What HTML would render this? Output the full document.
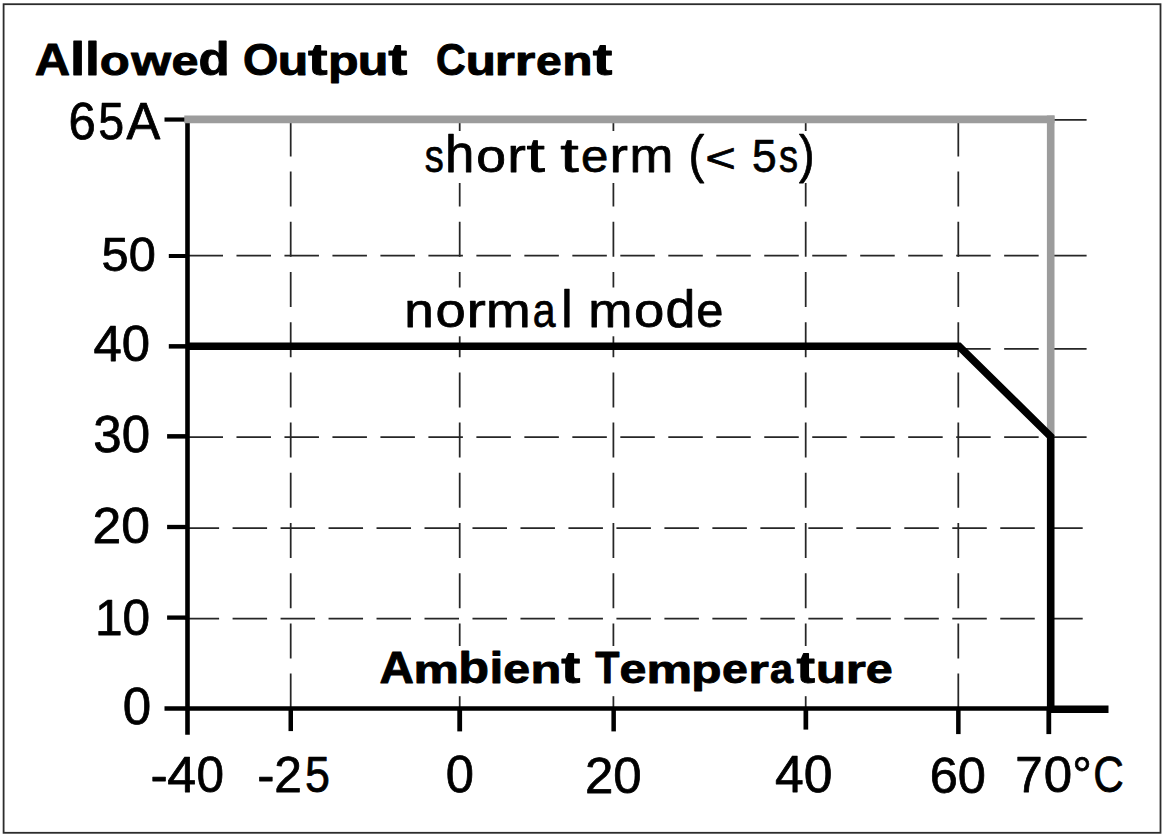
<!DOCTYPE html>
<html><head><meta charset="utf-8">
<style>
html,body{margin:0;padding:0;background:#fff;}
body{width:1169px;height:839px;overflow:hidden;position:relative;}
svg{position:absolute;left:0;top:0;}
text{font-family:"Liberation Sans",sans-serif;fill:#000;white-space:pre;}
</style></head><body>
<svg width="1169" height="839" viewBox="0 0 1169 839">
<g>
<rect x="0" y="0" width="1169" height="839" fill="#fff"/>
<rect x="3.6" y="4.2" width="1156.9" height="828.6" fill="none" stroke="#2c2c2c" stroke-width="1.8"/>
<g stroke="#262626" stroke-width="1.75" fill="none" stroke-dasharray="34.5 13.48">
<line x1="188.5" y1="119.8" x2="1086.6" y2="119.8"/>
<line x1="188.5" y1="255.7" x2="1086.6" y2="255.7"/>
<line x1="188.5" y1="348.8" x2="1086.6" y2="348.8"/>
<line x1="188.5" y1="437.2" x2="1086.6" y2="437.2"/>
<line x1="184.6" y1="528.0" x2="1082.7" y2="528.0"/>
<line x1="184.6" y1="618.5" x2="1082.7" y2="618.5"/>
</g>
<g stroke="#262626" stroke-width="1.75" fill="none" stroke-dasharray="35 15.2">
<line x1="290.7" y1="121.4" x2="290.7" y2="708.5"/>
<line x1="459.7" y1="121.4" x2="459.7" y2="708.5"/>
<line x1="613.4" y1="121.4" x2="613.4" y2="708.5"/>
<line x1="805.7" y1="121.4" x2="805.7" y2="708.5"/>
<line x1="958.3" y1="121.4" x2="958.3" y2="708.5"/>
</g>
<g fill="#fff">
<rect x="418" y="131" width="398" height="52"/>
<rect x="400" y="287.5" width="328" height="48.8"/>
<rect x="374" y="646" width="522" height="50.2"/>
</g>
<g stroke="#000" fill="none">
<line x1="187.5" y1="119" x2="187.5" y2="734.7" stroke-width="4.6"/>
<line x1="164.5" y1="708.4" x2="1051" y2="708.4" stroke-width="4.5"/>
<line x1="164.5" y1="119.55" x2="187.5" y2="119.55" stroke-width="4.2"/>
<line x1="168.8" y1="256" x2="187.5" y2="256" stroke-width="4"/>
<line x1="168.8" y1="346.35" x2="187.5" y2="346.35" stroke-width="4.5"/>
<line x1="167.1" y1="436.35" x2="187.5" y2="436.35" stroke-width="4.5"/>
<line x1="167.1" y1="527" x2="187.5" y2="527" stroke-width="4.3"/>
<line x1="167.1" y1="617.6" x2="187.5" y2="617.6" stroke-width="4.3"/>
<line x1="290.75" y1="708" x2="290.75" y2="731.1" stroke-width="4.5"/>
<line x1="459.7" y1="708" x2="459.7" y2="731.4" stroke-width="4.8"/>
<line x1="613.65" y1="708" x2="613.65" y2="731.4" stroke-width="4.5"/>
<line x1="805.85" y1="708" x2="805.85" y2="729.6" stroke-width="4.7"/>
<line x1="958.35" y1="708" x2="958.35" y2="734.1" stroke-width="4.5"/>
<line x1="1048.8" y1="708" x2="1048.8" y2="734.1" stroke-width="4.8"/>
<line x1="1050.7" y1="709.2" x2="1108.5" y2="709.2" stroke-width="7.4"/>
</g>
<g stroke="#9c9c9c" fill="none">
<line x1="184.3" y1="119.45" x2="1054.5" y2="119.45" stroke-width="7.7"/>
<line x1="1050.7" y1="115.6" x2="1050.7" y2="437" stroke-width="7.6"/>
</g>
<polyline points="187.5,346.2 959,346.2 1050.7,436.6 1050.7,709.2" fill="none" stroke="#000" stroke-width="7.6" stroke-linejoin="miter"/>

<g>
<text x="34.85" y="74.55" font-size="44.50" font-weight="bold" textLength="35.35" lengthAdjust="spacingAndGlyphs" stroke="#000" stroke-width="0.9" stroke-linejoin="round">A</text>
<text x="70.08" y="74.55" font-size="46.33" font-weight="bold" textLength="15.24" lengthAdjust="spacingAndGlyphs" stroke="#000" stroke-width="0.9" stroke-linejoin="round">l</text>
<text x="85.07" y="74.55" font-size="46.33" font-weight="bold" textLength="14.90" lengthAdjust="spacingAndGlyphs" stroke="#000" stroke-width="0.9" stroke-linejoin="round">l</text>
<text x="99.74" y="74.55" font-size="41.14" font-weight="bold" textLength="30.01" lengthAdjust="spacingAndGlyphs" stroke="#000" stroke-width="0.9" stroke-linejoin="round">o</text>
<text x="131.16" y="74.55" font-size="40.19" font-weight="bold" textLength="39.82" lengthAdjust="spacingAndGlyphs" stroke="#000" stroke-width="0.9" stroke-linejoin="round">w</text>
<text x="171.48" y="74.55" font-size="41.13" font-weight="bold" textLength="27.03" lengthAdjust="spacingAndGlyphs" stroke="#000" stroke-width="0.9" stroke-linejoin="round">e</text>
<text x="198.59" y="74.55" font-size="46.15" font-weight="bold" textLength="31.18" lengthAdjust="spacingAndGlyphs" stroke="#000" stroke-width="0.9" stroke-linejoin="round">d</text>
<text x="243.06" y="74.55" font-size="44.59" font-weight="bold" textLength="35.34" lengthAdjust="spacingAndGlyphs" stroke="#000" stroke-width="0.9" stroke-linejoin="round">O</text>
<text x="277.78" y="74.55" font-size="40.13" font-weight="bold" textLength="30.52" lengthAdjust="spacingAndGlyphs" stroke="#000" stroke-width="0.9" stroke-linejoin="round">u</text>
<text x="308.12" y="74.55" font-size="44.41" font-weight="bold" textLength="19.57" lengthAdjust="spacingAndGlyphs" stroke="#000" stroke-width="0.9" stroke-linejoin="round">t</text>
<text x="327.94" y="74.55" font-size="40.13" font-weight="bold" textLength="30.60" lengthAdjust="spacingAndGlyphs" stroke="#000" stroke-width="0.9" stroke-linejoin="round">p</text>
<text x="357.68" y="74.55" font-size="40.13" font-weight="bold" textLength="30.69" lengthAdjust="spacingAndGlyphs" stroke="#000" stroke-width="0.9" stroke-linejoin="round">u</text>
<text x="388.32" y="74.55" font-size="44.41" font-weight="bold" textLength="19.03" lengthAdjust="spacingAndGlyphs" stroke="#000" stroke-width="0.9" stroke-linejoin="round">t</text>
<text x="435.98" y="74.55" font-size="44.59" font-weight="bold" textLength="29.74" lengthAdjust="spacingAndGlyphs" stroke="#000" stroke-width="0.9" stroke-linejoin="round">C</text>
<text x="465.73" y="74.55" font-size="40.13" font-weight="bold" textLength="30.18" lengthAdjust="spacingAndGlyphs" stroke="#000" stroke-width="0.9" stroke-linejoin="round">u</text>
<text x="494.75" y="74.55" font-size="40.13" font-weight="bold" textLength="20.08" lengthAdjust="spacingAndGlyphs" stroke="#000" stroke-width="0.9" stroke-linejoin="round">r</text>
<text x="514.77" y="74.55" font-size="40.13" font-weight="bold" textLength="20.62" lengthAdjust="spacingAndGlyphs" stroke="#000" stroke-width="0.9" stroke-linejoin="round">r</text>
<text x="536.03" y="74.55" font-size="41.14" font-weight="bold" textLength="25.74" lengthAdjust="spacingAndGlyphs" stroke="#000" stroke-width="0.9" stroke-linejoin="round">e</text>
<text x="562.26" y="74.55" font-size="40.13" font-weight="bold" textLength="30.34" lengthAdjust="spacingAndGlyphs" stroke="#000" stroke-width="0.9" stroke-linejoin="round">n</text>
<text x="592.70" y="74.55" font-size="44.41" font-weight="bold" textLength="19.58" lengthAdjust="spacingAndGlyphs" stroke="#000" stroke-width="0.9" stroke-linejoin="round">t</text>
<text x="424.67" y="171.55" font-size="46.31" font-weight="normal" textLength="19.05" lengthAdjust="spacingAndGlyphs" stroke="#000" stroke-width="0.75" stroke-linejoin="round">s</text>
<text x="444.97" y="171.55" font-size="52.06" font-weight="normal" textLength="29.39" lengthAdjust="spacingAndGlyphs" stroke="#000" stroke-width="0.75" stroke-linejoin="round">h</text>
<text x="476.36" y="171.55" font-size="45.91" font-weight="normal" textLength="29.75" lengthAdjust="spacingAndGlyphs" stroke="#000" stroke-width="0.75" stroke-linejoin="round">o</text>
<text x="507.20" y="171.55" font-size="47.44" font-weight="normal" textLength="18.62" lengthAdjust="spacingAndGlyphs" stroke="#000" stroke-width="0.75" stroke-linejoin="round">r</text>
<text x="526.48" y="171.55" font-size="47.97" font-weight="normal" textLength="18.46" lengthAdjust="spacingAndGlyphs" stroke="#000" stroke-width="0.75" stroke-linejoin="round">t</text>
<text x="560.29" y="171.55" font-size="47.97" font-weight="normal" textLength="18.52" lengthAdjust="spacingAndGlyphs" stroke="#000" stroke-width="0.75" stroke-linejoin="round">t</text>
<text x="581.10" y="171.55" font-size="46.09" font-weight="normal" textLength="27.38" lengthAdjust="spacingAndGlyphs" stroke="#000" stroke-width="0.75" stroke-linejoin="round">e</text>
<text x="609.44" y="171.55" font-size="47.44" font-weight="normal" textLength="18.45" lengthAdjust="spacingAndGlyphs" stroke="#000" stroke-width="0.75" stroke-linejoin="round">r</text>
<text x="629.49" y="171.55" font-size="47.42" font-weight="normal" textLength="43.81" lengthAdjust="spacingAndGlyphs" stroke="#000" stroke-width="0.75" stroke-linejoin="round">m</text>
<text x="688.41" y="171.55" font-size="51.07" font-weight="normal" textLength="15.80" lengthAdjust="spacingAndGlyphs" stroke="#000" stroke-width="0.75" stroke-linejoin="round">(</text>
<text x="705.37" y="171.55" font-size="40.73" font-weight="normal" textLength="30.65" lengthAdjust="spacingAndGlyphs" stroke="#000" stroke-width="0.75" stroke-linejoin="round">&lt;</text>
<text x="752.01" y="171.55" font-size="47.14" font-weight="normal" textLength="24.66" lengthAdjust="spacingAndGlyphs" stroke="#000" stroke-width="0.75" stroke-linejoin="round">5</text>
<text x="779.01" y="171.55" font-size="46.46" font-weight="normal" textLength="19.06" lengthAdjust="spacingAndGlyphs" stroke="#000" stroke-width="0.75" stroke-linejoin="round">s</text>
<text x="799.09" y="171.55" font-size="51.07" font-weight="normal" textLength="15.60" lengthAdjust="spacingAndGlyphs" stroke="#000" stroke-width="0.75" stroke-linejoin="round">)</text>
<text x="404.23" y="326.52" font-size="48.42" font-weight="normal" textLength="29.55" lengthAdjust="spacingAndGlyphs" stroke="#000" stroke-width="0.75" stroke-linejoin="round">n</text>
<text x="435.46" y="326.52" font-size="48.71" font-weight="normal" textLength="30.25" lengthAdjust="spacingAndGlyphs" stroke="#000" stroke-width="0.75" stroke-linejoin="round">o</text>
<text x="466.42" y="326.52" font-size="48.45" font-weight="normal" textLength="19.34" lengthAdjust="spacingAndGlyphs" stroke="#000" stroke-width="0.75" stroke-linejoin="round">r</text>
<text x="486.10" y="326.52" font-size="48.43" font-weight="normal" textLength="44.69" lengthAdjust="spacingAndGlyphs" stroke="#000" stroke-width="0.75" stroke-linejoin="round">m</text>
<text x="532.69" y="326.52" font-size="47.59" font-weight="normal" textLength="22.78" lengthAdjust="spacingAndGlyphs" stroke="#000" stroke-width="0.75" stroke-linejoin="round">a</text>
<text x="561.16" y="326.52" font-size="50.94" font-weight="normal" textLength="11.34" lengthAdjust="spacingAndGlyphs" stroke="#000" stroke-width="0.75" stroke-linejoin="round">l</text>
<text x="588.16" y="326.52" font-size="48.43" font-weight="normal" textLength="44.26" lengthAdjust="spacingAndGlyphs" stroke="#000" stroke-width="0.75" stroke-linejoin="round">m</text>
<text x="634.05" y="326.52" font-size="48.78" font-weight="normal" textLength="30.32" lengthAdjust="spacingAndGlyphs" stroke="#000" stroke-width="0.75" stroke-linejoin="round">o</text>
<text x="665.45" y="326.52" font-size="50.94" font-weight="normal" textLength="29.93" lengthAdjust="spacingAndGlyphs" stroke="#000" stroke-width="0.75" stroke-linejoin="round">d</text>
<text x="696.35" y="326.52" font-size="48.87" font-weight="normal" textLength="27.16" lengthAdjust="spacingAndGlyphs" stroke="#000" stroke-width="0.75" stroke-linejoin="round">e</text>
<text x="379.50" y="683.20" font-size="43.69" font-weight="bold" textLength="34.42" lengthAdjust="spacingAndGlyphs" stroke="#000" stroke-width="0.9" stroke-linejoin="round">A</text>
<text x="413.45" y="683.20" font-size="39.68" font-weight="bold" textLength="45.41" lengthAdjust="spacingAndGlyphs" stroke="#000" stroke-width="0.9" stroke-linejoin="round">m</text>
<text x="458.29" y="683.20" font-size="45.03" font-weight="bold" textLength="30.77" lengthAdjust="spacingAndGlyphs" stroke="#000" stroke-width="0.9" stroke-linejoin="round">b</text>
<text x="489.42" y="683.20" font-size="45.14" font-weight="bold" textLength="13.80" lengthAdjust="spacingAndGlyphs" stroke="#000" stroke-width="0.9" stroke-linejoin="round">i</text>
<text x="503.31" y="683.20" font-size="40.72" font-weight="bold" textLength="26.87" lengthAdjust="spacingAndGlyphs" stroke="#000" stroke-width="0.9" stroke-linejoin="round">e</text>
<text x="530.47" y="683.20" font-size="39.68" font-weight="bold" textLength="30.85" lengthAdjust="spacingAndGlyphs" stroke="#000" stroke-width="0.9" stroke-linejoin="round">n</text>
<text x="561.31" y="683.20" font-size="43.92" font-weight="bold" textLength="19.04" lengthAdjust="spacingAndGlyphs" stroke="#000" stroke-width="0.9" stroke-linejoin="round">t</text>
<text x="595.25" y="683.20" font-size="43.69" font-weight="bold" textLength="24.20" lengthAdjust="spacingAndGlyphs" stroke="#000" stroke-width="0.9" stroke-linejoin="round">T</text>
<text x="619.54" y="683.20" font-size="40.66" font-weight="bold" textLength="26.91" lengthAdjust="spacingAndGlyphs" stroke="#000" stroke-width="0.9" stroke-linejoin="round">e</text>
<text x="646.41" y="683.20" font-size="39.68" font-weight="bold" textLength="45.62" lengthAdjust="spacingAndGlyphs" stroke="#000" stroke-width="0.9" stroke-linejoin="round">m</text>
<text x="691.21" y="683.20" font-size="39.68" font-weight="bold" textLength="30.24" lengthAdjust="spacingAndGlyphs" stroke="#000" stroke-width="0.9" stroke-linejoin="round">p</text>
<text x="722.03" y="683.20" font-size="40.67" font-weight="bold" textLength="25.90" lengthAdjust="spacingAndGlyphs" stroke="#000" stroke-width="0.9" stroke-linejoin="round">e</text>
<text x="748.18" y="683.20" font-size="39.68" font-weight="bold" textLength="20.63" lengthAdjust="spacingAndGlyphs" stroke="#000" stroke-width="0.9" stroke-linejoin="round">r</text>
<text x="769.95" y="683.20" font-size="40.77" font-weight="bold" textLength="23.07" lengthAdjust="spacingAndGlyphs" stroke="#000" stroke-width="0.9" stroke-linejoin="round">a</text>
<text x="796.53" y="683.20" font-size="43.92" font-weight="bold" textLength="18.54" lengthAdjust="spacingAndGlyphs" stroke="#000" stroke-width="0.9" stroke-linejoin="round">t</text>
<text x="816.09" y="683.20" font-size="39.68" font-weight="bold" textLength="29.88" lengthAdjust="spacingAndGlyphs" stroke="#000" stroke-width="0.9" stroke-linejoin="round">u</text>
<text x="845.78" y="683.20" font-size="39.68" font-weight="bold" textLength="20.08" lengthAdjust="spacingAndGlyphs" stroke="#000" stroke-width="0.9" stroke-linejoin="round">r</text>
<text x="865.81" y="683.20" font-size="40.74" font-weight="bold" textLength="26.97" lengthAdjust="spacingAndGlyphs" stroke="#000" stroke-width="0.9" stroke-linejoin="round">e</text>
<text x="68.56" y="139.19" font-size="50.94" font-weight="normal" textLength="27.28" lengthAdjust="spacingAndGlyphs" stroke="#000" stroke-width="0.75" stroke-linejoin="round">6</text>
<text x="98.32" y="139.19" font-size="50.94" font-weight="normal" textLength="25.86" lengthAdjust="spacingAndGlyphs" stroke="#000" stroke-width="0.75" stroke-linejoin="round">5</text>
<text x="126.54" y="139.19" font-size="50.94" font-weight="normal" textLength="33.76" lengthAdjust="spacingAndGlyphs" stroke="#000" stroke-width="0.75" stroke-linejoin="round">A</text>
<text x="101.55" y="271.37" font-size="48.43" font-weight="normal" textLength="54.26" lengthAdjust="spacingAndGlyphs" stroke="#000" stroke-width="0.75" stroke-linejoin="round">50</text>
<text x="93.45" y="361.22" font-size="49.80" font-weight="normal" textLength="56.56" lengthAdjust="spacingAndGlyphs" stroke="#000" stroke-width="0.75" stroke-linejoin="round">40</text>
<text x="93.28" y="452.40" font-size="51.20" font-weight="normal" textLength="56.74" lengthAdjust="spacingAndGlyphs" stroke="#000" stroke-width="0.75" stroke-linejoin="round">30</text>
<text x="92.64" y="543.22" font-size="49.70" font-weight="normal" textLength="57.50" lengthAdjust="spacingAndGlyphs" stroke="#000" stroke-width="0.75" stroke-linejoin="round">20</text>
<text x="94.96" y="634.81" font-size="50.26" font-weight="normal" textLength="55.17" lengthAdjust="spacingAndGlyphs" stroke="#000" stroke-width="0.75" stroke-linejoin="round">10</text>
<text x="122.67" y="724.38" font-size="51.11" font-weight="normal" textLength="28.40" lengthAdjust="spacingAndGlyphs" stroke="#000" stroke-width="0.75" stroke-linejoin="round">0</text>
<text x="150.45" y="792.45" font-size="49.79" font-weight="normal" textLength="17.18" lengthAdjust="spacingAndGlyphs" stroke="#000" stroke-width="0.75" stroke-linejoin="round">-</text>
<text x="167.38" y="792.45" font-size="49.79" font-weight="normal" textLength="28.89" lengthAdjust="spacingAndGlyphs" stroke="#000" stroke-width="0.75" stroke-linejoin="round">4</text>
<text x="196.38" y="792.45" font-size="49.79" font-weight="normal" textLength="27.51" lengthAdjust="spacingAndGlyphs" stroke="#000" stroke-width="0.75" stroke-linejoin="round">0</text>
<text x="257.31" y="792.40" font-size="49.84" font-weight="normal" textLength="17.22" lengthAdjust="spacingAndGlyphs" stroke="#000" stroke-width="0.75" stroke-linejoin="round">-</text>
<text x="274.33" y="792.40" font-size="49.84" font-weight="normal" textLength="27.67" lengthAdjust="spacingAndGlyphs" stroke="#000" stroke-width="0.75" stroke-linejoin="round">2</text>
<text x="304.92" y="792.40" font-size="49.84" font-weight="normal" textLength="24.92" lengthAdjust="spacingAndGlyphs" stroke="#000" stroke-width="0.75" stroke-linejoin="round">5</text>
<text x="445.84" y="792.44" font-size="51.27" font-weight="normal" textLength="28.19" lengthAdjust="spacingAndGlyphs" stroke="#000" stroke-width="0.75" stroke-linejoin="round">0</text>
<text x="584.92" y="793.11" font-size="50.72" font-weight="normal" textLength="56.78" lengthAdjust="spacingAndGlyphs" stroke="#000" stroke-width="0.75" stroke-linejoin="round">20</text>
<text x="775.04" y="792.38" font-size="51.17" font-weight="normal" textLength="57.40" lengthAdjust="spacingAndGlyphs" stroke="#000" stroke-width="0.75" stroke-linejoin="round">40</text>
<text x="929.71" y="793.16" font-size="50.85" font-weight="normal" textLength="56.24" lengthAdjust="spacingAndGlyphs" stroke="#000" stroke-width="0.75" stroke-linejoin="round">60</text>
<text x="1015.36" y="792.40" font-size="50.67" font-weight="normal" textLength="27.41" lengthAdjust="spacingAndGlyphs" stroke="#000" stroke-width="0.75" stroke-linejoin="round">7</text>
<text x="1043.84" y="792.40" font-size="50.67" font-weight="normal" textLength="28.39" lengthAdjust="spacingAndGlyphs" stroke="#000" stroke-width="0.75" stroke-linejoin="round">0</text>
<text x="1072.22" y="792.40" font-size="50.67" font-weight="normal" textLength="19.61" lengthAdjust="spacingAndGlyphs" stroke="#000" stroke-width="0.75" stroke-linejoin="round">°</text>
<text x="1093.31" y="792.40" font-size="50.67" font-weight="normal" textLength="30.56" lengthAdjust="spacingAndGlyphs" stroke="#000" stroke-width="0.75" stroke-linejoin="round">C</text>
</g>
</g>
</svg>
</body></html>
